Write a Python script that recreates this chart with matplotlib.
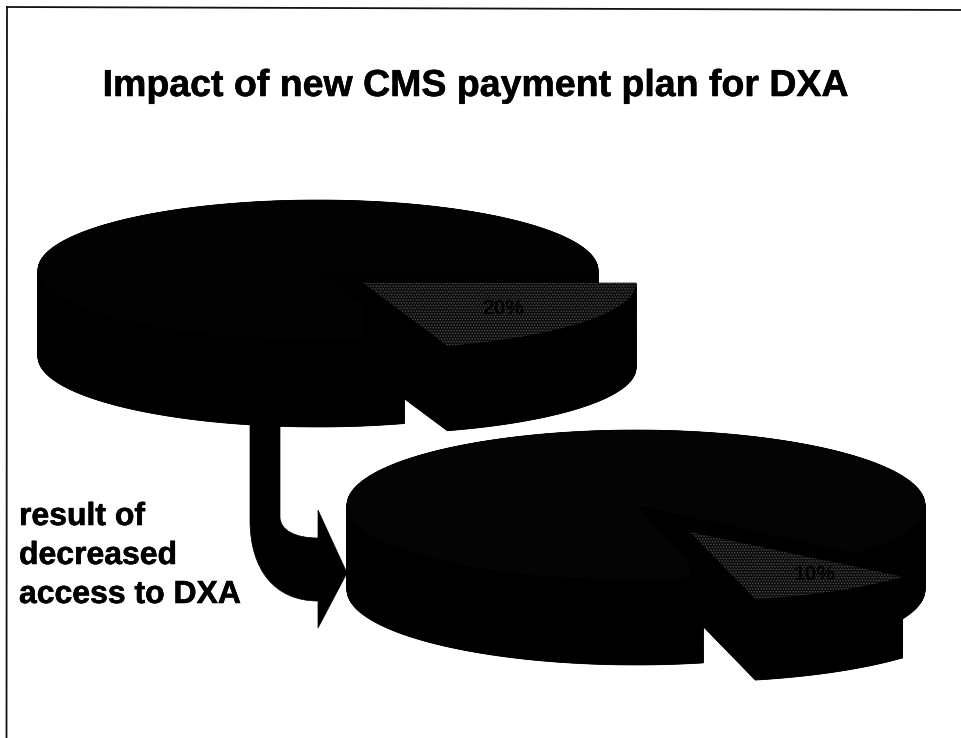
"""Two exploded 3D pies showing the DXA share before and after the CMS payment change."""
import numpy as np
import matplotlib
matplotlib.use("Agg")
import matplotlib.pyplot as plt
import matplotlib.patheffects as pe
from matplotlib.patches import PathPatch, Polygon
from matplotlib.path import Path

title = "Impact of new CMS payment plan for DXA"
note_lines = ["result of", "decreased", "access to DXA"]

# share of the pulled-out slice in each pie, in percent
before_share = 20
after_share = 10
before_label = "20%"
after_label = "10%"

plt.rcParams["font.family"] = ["Liberation Sans", "DejaVu Sans"]
plt.rcParams["hatch.linewidth"] = 0.7

# slightly fattened strokes for the heavy photocopied lettering
heavy = [pe.withStroke(linewidth=0.4, foreground="black")]


def arc(cx, cy, a, b, t0, t1):
    t = np.radians(np.linspace(t0, t1, 160))
    return np.column_stack([cx + a * np.cos(t), cy + b * np.sin(t)])


def wedge3d(ax, cx, cy, a, b, depth, t0, t1, z=1, top_fc="black", dots=None, dot_color="black"):
    """Extruded pie wedge; angles run clockwise on screen, y axis points down."""
    rim = arc(cx, cy, a, b, t0, t1)
    top = np.vstack([[cx, cy], rim])
    # side wall: everything the top face sweeps through on its way down
    for k in np.linspace(0, depth, int(depth * 3)):
        ax.add_patch(Polygon(top + [0, k], closed=True, fc="black", ec="black", lw=0.5, zorder=z))
    ax.add_patch(Polygon(top, closed=True, fc=top_fc, ec=dot_color, lw=0, hatch=dots, zorder=z + 1))


fig = plt.figure(figsize=(9.62, 7.38), dpi=100)
ax = fig.add_axes([0, 0, 1, 1])
ax.set_xlim(0, 962)
ax.set_ylim(738, 0)
ax.axis("off")

# slide frame: only the top and left edges are there
ax.plot([7, 962], [7, 10], color="#111111", lw=1.3)
ax.plot([7, 6.5], [7, 738], color="#111111", lw=1.3)

ax.text(475.5, 96, title, fontsize=27, fontweight="bold", ha="center", va="baseline",
        color="black", path_effects=heavy)

# upper pie
before_sweep = 360 * before_share / 100
wedge3d(ax, 318, 270, 280, 70, 87, before_sweep, 360, z=2, top_fc="#020202")
wedge3d(ax, 363, 283, 273, 66, 85, 0, before_sweep, z=4, top_fc="#0c0c0c", dots="......", dot_color="#4c4c4c")
ax.text(503, 309, before_label, fontsize=15, fontweight="bold", ha="center", va="center", color="black", zorder=8)

# lower pie
after_sweep = 360 * after_share / 100
after_start = 40.5
wedge3d(ax, 636, 505, 289, 75, 85, after_start + after_sweep, after_start + 360, z=2, top_fc="#040404")
wedge3d(ax, 690, 532, 280, 69, 81, after_start, after_start + after_sweep, z=4,
        top_fc="#0c0c0c", dots="......", dot_color="#4c4c4c")
ax.text(815, 575, after_label, fontsize=15, fontweight="bold", ha="center", va="center", color="black", zorder=8)

# curved arrow from the upper pie into the lower one
verts = [(250, 420), (250, 520), (250, 570), (275, 601), (318, 601), (318, 628), (347, 573),
         (318, 510), (318, 538), (295, 538), (280, 530), (280, 517), (280, 420), (250, 420)]
codes = [Path.MOVETO, Path.LINETO, Path.CURVE4, Path.CURVE4, Path.CURVE4, Path.LINETO, Path.LINETO,
         Path.LINETO, Path.LINETO, Path.CURVE4, Path.CURVE4, Path.CURVE4, Path.LINETO, Path.CLOSEPOLY]
ax.add_patch(PathPatch(Path(verts, codes), fc="black", ec="black", lw=0.5, zorder=1))

for line, y in zip(note_lines, [525, 564, 603]):
    ax.text(19, y, line, fontsize=23, fontweight="bold", ha="left", va="baseline",
            color="black", path_effects=heavy)

fig.savefig("out.png", dpi=100, facecolor="white")
plt.close(fig)
